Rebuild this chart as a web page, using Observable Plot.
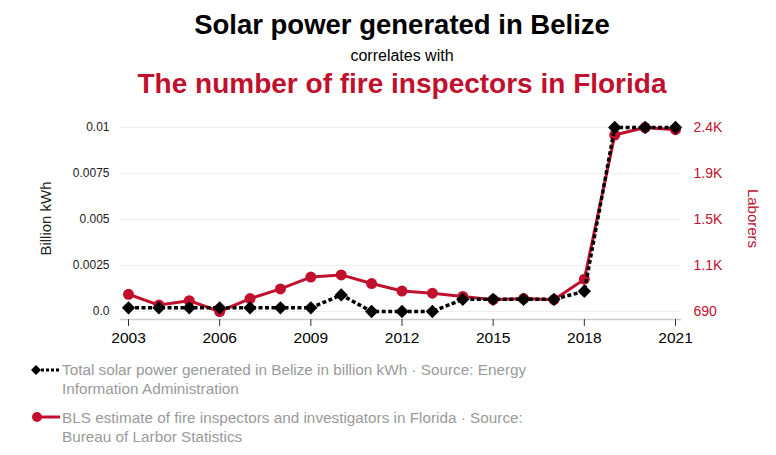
<!DOCTYPE html>
<html>
<head>
<meta charset="utf-8">
<script src="https://cdn.jsdelivr.net/npm/d3@7"></script>
<script src="https://cdn.jsdelivr.net/npm/@observablehq/plot@0.6"></script>
<style>
  html, body { margin: 0; background: #fff; font-family: "Liberation Sans", Arial, sans-serif; }
  #wrap { width: 776px; height: 455px; position: relative; overflow: hidden; }
  .t1 { position: absolute; left: 0; width: 804px; text-align: center; top: 9px; font-size: 27.5px; font-weight: bold; color: #000; }
  .t2 { position: absolute; left: 0; width: 804px; text-align: center; top: 47px; font-size: 16px; color: #000; }
  .t3 { position: absolute; left: 0; width: 804px; text-align: center; top: 68px; font-size: 28px; font-weight: bold; color: #c0102e; }
  #chart { position: absolute; left: 0; top: 104px; }
  .leg { position: absolute; left: 62px; width: 478px; font-size: 15.3px; line-height: 19px; color: #9a9a9a; }
  .icon { position: absolute; }
</style>
</head>
<body>
<div id="wrap">
  <div class="t1">Solar power generated in Belize</div>
  <div class="t2">correlates with</div>
  <div class="t3">The number of fire inspectors in Florida</div>
  <div id="chart"></div>
  <svg class="icon" style="left:30px;top:362px" width="32" height="16">
    <line x1="6" y1="8" x2="30" y2="8" stroke="#000" stroke-width="3" stroke-dasharray="3,2"/>
    <path d="M1,8 L6,3 L11,8 L6,13 Z" fill="#000"/>
  </svg>
  <div class="leg" style="top:360px">Total solar power generated in Belize in billion kWh · Source: Energy Information Administration</div>
  <svg class="icon" style="left:30px;top:409px" width="32" height="16">
    <line x1="6" y1="8" x2="30" y2="8" stroke="#c0102e" stroke-width="3"/>
    <circle cx="7" cy="8" r="5" fill="#c0102e"/>
  </svg>
  <div class="leg" style="top:408px">BLS estimate of fire inspectors and investigators in Florida · Source: Bureau of Larbor Statistics</div>
</div>
<script>
const years = [2003,2004,2005,2006,2007,2008,2009,2010,2011,2012,2013,2014,2015,2016,2017,2018,2019,2020,2021];
const solar = [0.0002,0.0002,0.0002,0.0002,0.0002,0.0002,0.0002,0.0009,0,0,0,0.00066,0.00066,0.00066,0.00066,0.0011,0.01,0.01,0.01];
const inspectors = [850,750,790,690,810,900,1010,1030,950,880,860,830,800,810,800,990,2330,2400,2380];
const leftTicks = [0,0.0025,0.005,0.0075,0.01];
const leftTickLabels = ["0.0","0.0025","0.005","0.0075","0.01"];
const rightDomain = [690,2400];
const rightTicks = [690,1117.5,1545,1972.5,2400];
const rightTickLabels = ["690","1.1K","1.5K","1.9K","2.4K"];
const xTicks = [2003,2006,2009,2012,2015,2018,2021];

const red = "#c0102e";
const toLeft = v => (v - rightDomain[0]) / (rightDomain[1] - rightDomain[0]) * 0.01;
const solarData = years.map((y,i) => ({year: y, v: solar[i]}));
const inspData = years.map((y,i) => ({year: y, v: toLeft(inspectors[i])}));
const rightTickPos = rightTicks.map(toLeft);

try {
const chart = Plot.plot({
  width: 776,
  height: 250,
  marginLeft: 120,
  marginRight: 96,
  marginTop: 23,
  marginBottom: 35,
  style: {fontFamily: "'Liberation Sans', Arial, sans-serif", background: "transparent", overflow: "visible"},
  x: {domain: [2003, 2021], insetLeft: 8, insetRight: 5},
  y: {domain: [0, 0.01], insetBottom: 8},
  marks: [
    Plot.ruleY(leftTicks, {stroke: "#eeeeee", strokeWidth: 1}),
    Plot.frame({anchor: "bottom", stroke: "#cccccc", strokeWidth: 1.5}),
    Plot.axisX({ticks: xTicks, tickFormat: d => String(d), tickSize: 7, tickPadding: 5, fontSize: 15.5, stroke: "#333", fill: "#000", label: null}),
    Plot.axisY({ticks: leftTicks, tickFormat: d => leftTickLabels[leftTicks.indexOf(d)], tickSize: 0, tickPadding: 11, fontSize: 12, fill: "#222", label: null}),
    Plot.axisY({anchor: "right", ticks: rightTickPos, tickFormat: d => rightTickLabels[rightTickPos.indexOf(d)], tickSize: 0, tickPadding: 13, fontSize: 14, fill: red, label: null}),
    Plot.text(["Billion kWh"], {frameAnchor: "left", textAnchor: "middle", dx: -74, dy: -5, rotate: -90, fontSize: 15, fill: "#222"}),
    Plot.text(["Laborers"], {frameAnchor: "right", textAnchor: "middle", dx: 72, dy: -5, rotate: 90, fontSize: 15, fill: red}),
    Plot.line(inspData, {x: "year", y: "v", stroke: red, strokeWidth: 3}),
    Plot.dot(inspData, {x: "year", y: "v", r: 5.5, fill: red, stroke: "none"}),
    Plot.line(solarData, {x: "year", y: "v", stroke: "#000", strokeWidth: 3.5, strokeDasharray: "4,2.5", strokeLinecap: "butt", strokeLinejoin: "miter"}),
    Plot.dot(solarData, {x: "year", y: "v", symbol: "diamond2", r: 6, fill: "#000", stroke: "none"})
  ]
});
document.getElementById("chart").appendChild(chart);
} catch (e) {
  document.getElementById("chart").textContent = "ERR: " + e.message;
}
</script>
</body>
</html>
